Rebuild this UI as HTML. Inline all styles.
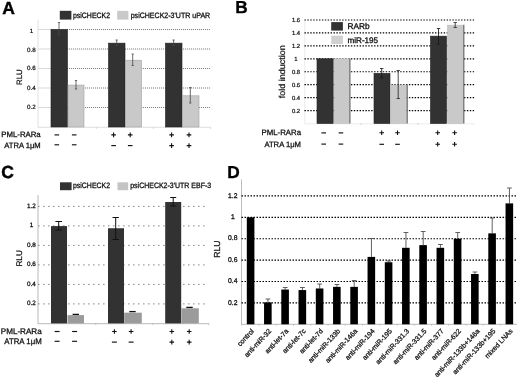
<!DOCTYPE html>
<html><head><meta charset="utf-8"><title>Figure</title>
<style>
html,body{margin:0;padding:0;background:#fff;}
body{width:520px;height:377px;overflow:hidden;font-family:"Liberation Sans",sans-serif;}
svg{display:block;filter:blur(0.35px);}
svg text{font-family:"Liberation Sans",sans-serif;}
</style></head>
<body>
<svg width="520" height="377" viewBox="0 0 520 377" shape-rendering="geometricPrecision" text-rendering="geometricPrecision">
<rect width="520" height="377" fill="#fff"/>
<text x="2.3" y="14.1" font-size="17.5" text-anchor="start" font-weight="bold" fill="#000" stroke="#000" stroke-width="0.4" >A</text>
<path d="M38,20V127.3H210.5" stroke="#d2d2d2" stroke-width="0.7" fill="none"/>
<path d="M38,107.5H51" stroke="#cfcfcf" stroke-width="0.8"/>
<path d="M51,107.5H210.5" stroke="#ececec" stroke-width="0.8"/>
<path d="M51,107.5H210.5" stroke="#6a6a6a" stroke-width="0.8" stroke-dasharray="1 1"/>
<text x="31.4" y="109.1" font-size="6.2" text-anchor="middle" font-weight="normal" fill="#111" stroke="#111" stroke-width="0.22" >0.2</text>
<path d="M38,88.0H51" stroke="#cfcfcf" stroke-width="0.8"/>
<path d="M51,88.0H210.5" stroke="#ececec" stroke-width="0.8"/>
<path d="M51,88.0H210.5" stroke="#6a6a6a" stroke-width="0.8" stroke-dasharray="1 1"/>
<text x="31.4" y="90.2" font-size="6.2" text-anchor="middle" font-weight="normal" fill="#111" stroke="#111" stroke-width="0.22" >0.4</text>
<path d="M38,68.5H51" stroke="#cfcfcf" stroke-width="0.8"/>
<path d="M51,68.5H210.5" stroke="#ececec" stroke-width="0.8"/>
<path d="M51,68.5H210.5" stroke="#6a6a6a" stroke-width="0.8" stroke-dasharray="1 1"/>
<text x="31.4" y="70.2" font-size="6.2" text-anchor="middle" font-weight="normal" fill="#111" stroke="#111" stroke-width="0.22" >0.6</text>
<path d="M38,49.0H51" stroke="#cfcfcf" stroke-width="0.8"/>
<path d="M51,49.0H210.5" stroke="#ececec" stroke-width="0.8"/>
<path d="M51,49.0H210.5" stroke="#6a6a6a" stroke-width="0.8" stroke-dasharray="1 1"/>
<text x="31.4" y="52.1" font-size="6.2" text-anchor="middle" font-weight="normal" fill="#111" stroke="#111" stroke-width="0.22" >0.8</text>
<path d="M38,29.5H51" stroke="#cfcfcf" stroke-width="0.8"/>
<path d="M51,29.5H210.5" stroke="#ececec" stroke-width="0.8"/>
<path d="M51,29.5H210.5" stroke="#6a6a6a" stroke-width="0.8" stroke-dasharray="1 1"/>
<text x="31.4" y="33.2" font-size="6.2" text-anchor="middle" font-weight="normal" fill="#111" stroke="#111" stroke-width="0.22" >1</text>
<text transform="translate(22.2,77.2) rotate(-90)" font-size="7.8" text-anchor="middle" fill="#111" stroke="#111" stroke-width="0.22" >RLU</text>
<rect x="51" y="29.5" width="16.5" height="97.5" fill="#323232" stroke="#1e1e1e" stroke-width="0.6"/>
<rect x="68" y="85.08" width="16" height="41.92" fill="#c9c9c9" stroke="#a0a0a0" stroke-width="0.6"/>
<rect x="108.5" y="43.15" width="16.5" height="83.85" fill="#323232" stroke="#1e1e1e" stroke-width="0.6"/>
<rect x="125.3" y="60.21" width="16.2" height="66.79" fill="#c9c9c9" stroke="#a0a0a0" stroke-width="0.6"/>
<rect x="165.5" y="43.15" width="16.5" height="83.85" fill="#323232" stroke="#1e1e1e" stroke-width="0.6"/>
<rect x="182.5" y="95.8" width="16.5" height="31.2" fill="#c9c9c9" stroke="#a0a0a0" stroke-width="0.6"/>
<path d="M59,22.5V35M57.9,22.5H60.1M57.9,35H60.1" stroke="#474747" stroke-width="0.8" fill="none"/>
<path d="M76,80.5V89M74.9,80.5H77.1M74.9,89H77.1" stroke="#474747" stroke-width="0.8" fill="none"/>
<path d="M116.7,40V45.5M115.60000000000001,40H117.8M115.60000000000001,45.5H117.8" stroke="#474747" stroke-width="0.8" fill="none"/>
<path d="M132.7,54V65.5M131.6,54H133.79999999999998M131.6,65.5H133.79999999999998" stroke="#474747" stroke-width="0.8" fill="none"/>
<path d="M173.6,40V45.5M172.5,40H174.7M172.5,45.5H174.7" stroke="#474747" stroke-width="0.8" fill="none"/>
<path d="M190.3,87.5V103M189.20000000000002,87.5H191.4M189.20000000000002,103H191.4" stroke="#474747" stroke-width="0.8" fill="none"/>
<path d="M96.3,127.3v1.6M153.5,127.3v1.6M210.5,127.3v1.6" stroke="#bbb" stroke-width="0.6"/>
<rect x="59.8" y="10.8" width="11.6" height="8.8" fill="#323232"/>
<text x="73" y="17.6" font-size="7.8" text-anchor="start" font-weight="normal" fill="#111" stroke="#111" stroke-width="0.3" textLength="37" lengthAdjust="spacingAndGlyphs">psiCHECK2</text>
<rect x="117.2" y="10.9" width="11.2" height="8.7" fill="#c9c9c9"/>
<text x="130.7" y="17.6" font-size="7.8" text-anchor="start" font-weight="normal" fill="#111" stroke="#111" stroke-width="0.3" textLength="79.5" lengthAdjust="spacingAndGlyphs">psiCHECK2-3'UTR uPAR</text>
<text x="40.7" y="137.2" font-size="7.8" text-anchor="end" font-weight="normal" fill="#111" stroke="#111" stroke-width="0.28" >PML-RARa</text>
<text x="40.7" y="148.2" font-size="7.8" text-anchor="end" font-weight="normal" fill="#111" stroke="#111" stroke-width="0.28" textLength="36.4" lengthAdjust="spacingAndGlyphs">ATRA 1&#956;M</text>
<path d="M54.5,134.9H59.099999999999994" stroke="#111" stroke-width="1.15" fill="none"/>
<path d="M54.5,144.8H59.099999999999994" stroke="#111" stroke-width="1.15" fill="none"/>
<path d="M71.9,134.9H76.5" stroke="#111" stroke-width="1.15" fill="none"/>
<path d="M71.9,144.8H76.5" stroke="#111" stroke-width="1.15" fill="none"/>
<path d="M111.3,134.9H115.89999999999999M113.6,132.6V137.20000000000002" stroke="#111" stroke-width="1.1" fill="none"/>
<path d="M111.3,145.6H115.89999999999999" stroke="#111" stroke-width="1.15" fill="none"/>
<path d="M127.89999999999999,134.9H132.5M130.2,132.6V137.20000000000002" stroke="#111" stroke-width="1.1" fill="none"/>
<path d="M127.89999999999999,145.6H132.5" stroke="#111" stroke-width="1.15" fill="none"/>
<path d="M169.29999999999998,134.9H173.9M171.6,132.6V137.20000000000002" stroke="#111" stroke-width="1.1" fill="none"/>
<path d="M169.29999999999998,145.6H173.9M171.6,143.29999999999998V147.9" stroke="#111" stroke-width="1.1" fill="none"/>
<path d="M186.7,134.9H191.3M189,132.6V137.20000000000002" stroke="#111" stroke-width="1.1" fill="none"/>
<path d="M186.7,145.6H191.3M189,143.29999999999998V147.9" stroke="#111" stroke-width="1.1" fill="none"/>
<text x="235.3" y="13.2" font-size="17.3" text-anchor="start" font-weight="bold" fill="#000" stroke="#000" stroke-width="0.3" >B</text>
<path d="M304.8,20V123.8H475" stroke="#dcdcdc" stroke-width="0.6" fill="none"/>
<path d="M304.5,110.56H475" stroke="#000" stroke-width="1.2" stroke-dasharray="1.4 1.5"/>
<text x="296" y="112.56" font-size="5.9" text-anchor="middle" font-weight="normal" fill="#111" stroke="#111" stroke-width="0.22" >0.2</text>
<path d="M304.5,97.62H475" stroke="#000" stroke-width="1.2" stroke-dasharray="1.4 1.5"/>
<text x="296" y="99.62" font-size="5.9" text-anchor="middle" font-weight="normal" fill="#111" stroke="#111" stroke-width="0.22" >0.4</text>
<path d="M304.5,84.68H475" stroke="#000" stroke-width="1.2" stroke-dasharray="1.4 1.5"/>
<text x="296" y="86.68" font-size="5.9" text-anchor="middle" font-weight="normal" fill="#111" stroke="#111" stroke-width="0.22" >0.6</text>
<path d="M304.5,71.74H475" stroke="#000" stroke-width="1.2" stroke-dasharray="1.4 1.5"/>
<text x="296" y="73.74" font-size="5.9" text-anchor="middle" font-weight="normal" fill="#111" stroke="#111" stroke-width="0.22" >0.8</text>
<path d="M304.5,58.8H475" stroke="#000" stroke-width="1.2" stroke-dasharray="1.4 1.5"/>
<text x="296" y="60.8" font-size="5.9" text-anchor="middle" font-weight="normal" fill="#111" stroke="#111" stroke-width="0.22" >1</text>
<path d="M304.5,45.86H475" stroke="#000" stroke-width="1.2" stroke-dasharray="1.4 1.5"/>
<text x="296" y="47.86" font-size="5.9" text-anchor="middle" font-weight="normal" fill="#111" stroke="#111" stroke-width="0.22" >1.2</text>
<path d="M304.5,32.92H475" stroke="#000" stroke-width="1.2" stroke-dasharray="1.4 1.5"/>
<text x="296" y="34.92" font-size="5.9" text-anchor="middle" font-weight="normal" fill="#111" stroke="#111" stroke-width="0.22" >1.4</text>
<path d="M304.5,19.98H475" stroke="#000" stroke-width="1.2" stroke-dasharray="1.4 1.5"/>
<text x="296" y="21.98" font-size="5.9" text-anchor="middle" font-weight="normal" fill="#111" stroke="#111" stroke-width="0.22" >1.6</text>
<text transform="translate(285.3,71.8) rotate(-90)" font-size="8.6" text-anchor="middle" fill="#111" stroke="#111" stroke-width="0.22" textLength="53" lengthAdjust="spacingAndGlyphs">fold induction</text>
<rect x="317" y="58.8" width="16.2" height="64.7" fill="#323232" stroke="#1e1e1e" stroke-width="0.6"/>
<rect x="334.1" y="58.8" width="15.2" height="64.7" fill="#c9c9c9" stroke="#c0c0c0" stroke-width="0.6"/>
<rect x="374" y="73.36" width="16" height="50.14" fill="#323232" stroke="#1e1e1e" stroke-width="0.6"/>
<rect x="390.9" y="85.0" width="15.7" height="38.5" fill="#c9c9c9" stroke="#c0c0c0" stroke-width="0.6"/>
<rect x="430.5" y="36.15" width="16.0" height="87.35" fill="#323232" stroke="#1e1e1e" stroke-width="0.6"/>
<rect x="447.4" y="25.16" width="15.8" height="98.34" fill="#c9c9c9" stroke="#c0c0c0" stroke-width="0.6"/>
<path d="M349.9,58.5V123.5" stroke="#6a6a6a" stroke-width="1.2"/>
<path d="M407.2,84.7V123.5" stroke="#6a6a6a" stroke-width="1.2"/>
<path d="M463.8,24.86V123.5" stroke="#6a6a6a" stroke-width="1.2"/>
<path d="M381.7,68.5V78M380.0,68.5H383.4M380.0,78H383.4" stroke="#1a1a1a" stroke-width="0.85" fill="none"/>
<path d="M398.2,70.5V98.5M396.5,70.5H399.9M396.5,98.5H399.9" stroke="#2a2a2a" stroke-width="0.85" fill="none"/>
<path d="M438.5,28.5V44M436.8,28.5H440.2M436.8,44H440.2" stroke="#1a1a1a" stroke-width="0.85" fill="none"/>
<path d="M455.2,22.5V27.5M453.5,22.5H456.9M453.5,27.5H456.9" stroke="#2a2a2a" stroke-width="0.85" fill="none"/>
<rect x="331.2" y="22.1" width="11.7" height="8.5" fill="#323232"/>
<text x="347.5" y="28.7" font-size="8.3" text-anchor="start" font-weight="normal" fill="#111" stroke="#111" stroke-width="0.32" >RARb</text>
<rect x="331.2" y="35.7" width="11.7" height="8.3" fill="#d0d0d0"/>
<text x="347.5" y="42.5" font-size="8.1" text-anchor="start" font-weight="normal" fill="#111" stroke="#111" stroke-width="0.32" >miR-195</text>
<text x="301" y="135.2" font-size="7.8" text-anchor="end" font-weight="normal" fill="#111" stroke="#111" stroke-width="0.28" >PML-RARa</text>
<text x="301" y="146.7" font-size="7.8" text-anchor="end" font-weight="normal" fill="#111" stroke="#111" stroke-width="0.28" textLength="36.6" lengthAdjust="spacingAndGlyphs">ATRA 1&#956;M</text>
<path d="M321.4,132.9H326.0" stroke="#111" stroke-width="1.15" fill="none"/>
<path d="M321.4,144.1H326.0" stroke="#111" stroke-width="1.15" fill="none"/>
<path d="M338.59999999999997,132.9H343.2" stroke="#111" stroke-width="1.15" fill="none"/>
<path d="M338.59999999999997,144.1H343.2" stroke="#111" stroke-width="1.15" fill="none"/>
<path d="M379.4,132.8H384.0M381.7,130.5V135.10000000000002" stroke="#111" stroke-width="1.1" fill="none"/>
<path d="M379.4,144.3H384.0" stroke="#111" stroke-width="1.15" fill="none"/>
<path d="M395.2,132.8H399.8M397.5,130.5V135.10000000000002" stroke="#111" stroke-width="1.1" fill="none"/>
<path d="M395.2,144.3H399.8" stroke="#111" stroke-width="1.15" fill="none"/>
<path d="M435.4,132.8H440.0M437.7,130.5V135.10000000000002" stroke="#111" stroke-width="1.1" fill="none"/>
<path d="M435.4,144.2H440.0M437.7,141.89999999999998V146.5" stroke="#111" stroke-width="1.1" fill="none"/>
<path d="M452.3,132.8H456.90000000000003M454.6,130.5V135.10000000000002" stroke="#111" stroke-width="1.1" fill="none"/>
<path d="M452.3,144.2H456.90000000000003M454.6,141.89999999999998V146.5" stroke="#111" stroke-width="1.1" fill="none"/>
<path d="M361,123.5v1.6M418,123.5v1.6" stroke="#b5b5b5" stroke-width="0.6"/>
<text x="1.2" y="177.9" font-size="17.5" text-anchor="start" font-weight="bold" fill="#000" stroke="#000" stroke-width="0.45" >C</text>
<path d="M38,195V323.7H209" stroke="#b0b0b0" stroke-width="0.9" fill="none"/>
<path d="M38,303.9H207.5" stroke="#7d7d7d" stroke-width="0.9" stroke-dasharray="1.6 3.4"/>
<text x="31.5" y="305.4" font-size="6.3" text-anchor="middle" font-weight="normal" fill="#111" stroke="#111" stroke-width="0.28" >0.2</text>
<path d="M38,284.4H207.5" stroke="#7d7d7d" stroke-width="0.9" stroke-dasharray="1.6 3.4"/>
<text x="31.5" y="285.9" font-size="6.3" text-anchor="middle" font-weight="normal" fill="#111" stroke="#111" stroke-width="0.28" >0.4</text>
<path d="M38,264.9H207.5" stroke="#7d7d7d" stroke-width="0.9" stroke-dasharray="1.6 3.4"/>
<text x="31.5" y="266.4" font-size="6.3" text-anchor="middle" font-weight="normal" fill="#111" stroke="#111" stroke-width="0.28" >0.6</text>
<path d="M38,245.4H207.5" stroke="#7d7d7d" stroke-width="0.9" stroke-dasharray="1.6 3.4"/>
<text x="31.5" y="246.9" font-size="6.3" text-anchor="middle" font-weight="normal" fill="#111" stroke="#111" stroke-width="0.28" >0.8</text>
<path d="M38,225.9H207.5" stroke="#7d7d7d" stroke-width="0.9" stroke-dasharray="1.6 3.4"/>
<text x="31.5" y="227.4" font-size="6.3" text-anchor="middle" font-weight="normal" fill="#111" stroke="#111" stroke-width="0.28" >1</text>
<path d="M38,206.4H207.5" stroke="#7d7d7d" stroke-width="0.9" stroke-dasharray="1.6 3.4"/>
<text x="31.5" y="207.9" font-size="6.3" text-anchor="middle" font-weight="normal" fill="#111" stroke="#111" stroke-width="0.28" >1.2</text>
<text transform="translate(22.3,258.4) rotate(-90)" font-size="8.2" text-anchor="middle" fill="#111" stroke="#111" stroke-width="0.22" >RLU</text>
<rect x="51" y="226.09" width="16" height="97.31" fill="#323232"/>
<rect x="67.5" y="315.11" width="16.5" height="8.29" fill="#9b9b9b"/>
<rect x="108" y="228.24" width="16" height="95.16" fill="#323232"/>
<rect x="124.2" y="312.67" width="17.6" height="10.73" fill="#9b9b9b"/>
<rect x="165.2" y="202.01" width="16.0" height="121.39" fill="#323232"/>
<rect x="181.4" y="308.29" width="17.4" height="15.11" fill="#9b9b9b"/>
<path d="M58.7,221.5V230M55.400000000000006,221.5H62.0M55.400000000000006,230H62.0" stroke="#111" stroke-width="1.0" fill="none"/>
<path d="M115.7,217.5V239.5M112.5,217.5H118.9M112.5,239.5H118.9" stroke="#111" stroke-width="1.0" fill="none"/>
<path d="M173.2,197.5V206M170.2,197.5H176.2M170.2,206H176.2" stroke="#111" stroke-width="1.0" fill="none"/>
<path d="M72.6,314.4H79.0" stroke="#111" stroke-width="1.3"/>
<path d="M129.3,311.6H135.7" stroke="#111" stroke-width="1.3"/>
<path d="M186.3,307.4H192.7" stroke="#111" stroke-width="1.3"/>
<rect x="60" y="182.3" width="11.6" height="7.9" fill="#323232"/>
<text x="73" y="188.3" font-size="7.8" text-anchor="start" font-weight="normal" fill="#111" stroke="#111" stroke-width="0.3" textLength="37" lengthAdjust="spacingAndGlyphs">psiCHECK2</text>
<rect x="117.5" y="182.3" width="10.7" height="7.9" fill="#c4c4c4"/>
<text x="130.2" y="188.3" font-size="7.8" text-anchor="start" font-weight="normal" fill="#111" stroke="#111" stroke-width="0.3" textLength="81" lengthAdjust="spacingAndGlyphs">psiCHECK2-3'UTR EBF-3</text>
<text x="41.7" y="333.9" font-size="8.1" text-anchor="end" font-weight="normal" fill="#111" stroke="#111" stroke-width="0.28" >PML-RARa</text>
<text x="41.7" y="344.0" font-size="8.0" text-anchor="end" font-weight="normal" fill="#111" stroke="#111" stroke-width="0.28" textLength="37.4" lengthAdjust="spacingAndGlyphs">ATRA 1&#956;M</text>
<path d="M54.6,331.5H59.6" stroke="#111" stroke-width="1.15" fill="none"/>
<path d="M54.6,341.3H59.6" stroke="#111" stroke-width="1.15" fill="none"/>
<path d="M72.1,331.5H77.1" stroke="#111" stroke-width="1.15" fill="none"/>
<path d="M72.1,341.3H77.1" stroke="#111" stroke-width="1.15" fill="none"/>
<path d="M112.10000000000001,331.5H116.7M114.4,329.2V333.8" stroke="#111" stroke-width="1.1" fill="none"/>
<path d="M111.9,342.1H116.9" stroke="#111" stroke-width="1.15" fill="none"/>
<path d="M128.79999999999998,331.5H133.4M131.1,329.2V333.8" stroke="#111" stroke-width="1.1" fill="none"/>
<path d="M128.6,342.1H133.6" stroke="#111" stroke-width="1.15" fill="none"/>
<path d="M169.5,331.5H174.10000000000002M171.8,329.2V333.8" stroke="#111" stroke-width="1.1" fill="none"/>
<path d="M169.5,342.1H174.10000000000002M171.8,339.8V344.40000000000003" stroke="#111" stroke-width="1.1" fill="none"/>
<path d="M186.89999999999998,331.5H191.5M189.2,329.2V333.8" stroke="#111" stroke-width="1.1" fill="none"/>
<path d="M186.89999999999998,342.1H191.5M189.2,339.8V344.40000000000003" stroke="#111" stroke-width="1.1" fill="none"/>
<path d="M95.7,323.4v1.7M152.9,323.4v1.7M209,323.4v1.7" stroke="#aaa" stroke-width="0.6"/>
<text x="227.3" y="177.6" font-size="17.3" text-anchor="start" font-weight="bold" fill="#000" stroke="#000" stroke-width="0.35" >D</text>
<path d="M241.5,179.5V324.3H517" stroke="#aaa" stroke-width="0.8" fill="none"/>
<path d="M241.5,302.9H517" stroke="#000" stroke-width="1.15" stroke-dasharray="1.5 1.5"/>
<text x="232.8" y="304.5" font-size="6.8" text-anchor="middle" font-weight="normal" fill="#111" stroke="#111" stroke-width="0.28" >0.2</text>
<path d="M241.5,281.5H517" stroke="#000" stroke-width="1.15" stroke-dasharray="1.5 1.5"/>
<text x="232.8" y="283.1" font-size="6.8" text-anchor="middle" font-weight="normal" fill="#111" stroke="#111" stroke-width="0.28" >0.4</text>
<path d="M241.5,260.1H517" stroke="#000" stroke-width="1.15" stroke-dasharray="1.5 1.5"/>
<text x="232.8" y="261.7" font-size="6.8" text-anchor="middle" font-weight="normal" fill="#111" stroke="#111" stroke-width="0.28" >0.6</text>
<path d="M241.5,238.7H517" stroke="#000" stroke-width="1.15" stroke-dasharray="1.5 1.5"/>
<text x="232.8" y="240.3" font-size="6.8" text-anchor="middle" font-weight="normal" fill="#111" stroke="#111" stroke-width="0.28" >0.8</text>
<path d="M241.5,217.3H517" stroke="#000" stroke-width="1.15" stroke-dasharray="1.5 1.5"/>
<text x="232.8" y="218.9" font-size="6.8" text-anchor="middle" font-weight="normal" fill="#111" stroke="#111" stroke-width="0.28" >1</text>
<path d="M241.5,195.9H517" stroke="#000" stroke-width="1.15" stroke-dasharray="1.5 1.5"/>
<text x="232.8" y="197.5" font-size="6.8" text-anchor="middle" font-weight="normal" fill="#111" stroke="#111" stroke-width="0.28" >1.2</text>
<text transform="translate(220.3,249.1) rotate(-90)" font-size="8.7" text-anchor="middle" fill="#111" stroke="#111" stroke-width="0.28" >RLU</text>
<rect x="246.8" y="217.3" width="7.6" height="107.0" fill="#000"/>
<path d="M241.8,324.3v1.5" stroke="#aaa" stroke-width="0.6"/>
<text transform="translate(254.4,331.5) rotate(-47)" font-size="6.95" text-anchor="end" fill="#111" stroke="#111" stroke-width="0.26" >control</text>
<path d="M267.95000000000005,299V302.37M265.55000000000007,299H270.35" stroke="#505050" stroke-width="0.9" fill="none"/>
<rect x="264.05" y="302.37" width="7.6" height="21.93" fill="#000"/>
<path d="M259.05,324.3v1.5" stroke="#aaa" stroke-width="0.6"/>
<text transform="translate(271.65,331.5) rotate(-47)" font-size="6.95" text-anchor="end" fill="#111" stroke="#111" stroke-width="0.26" >anti-miR-32</text>
<path d="M285.20000000000005,287.5V289.53M282.80000000000007,287.5H287.6" stroke="#505050" stroke-width="0.9" fill="none"/>
<rect x="281.3" y="289.53" width="7.6" height="34.77" fill="#000"/>
<path d="M276.3,324.3v1.5" stroke="#aaa" stroke-width="0.6"/>
<text transform="translate(288.9,331.5) rotate(-47)" font-size="6.95" text-anchor="end" fill="#111" stroke="#111" stroke-width="0.26" >anti-let-7a</text>
<path d="M302.45000000000005,287.5V290.06M300.05000000000007,287.5H304.85" stroke="#505050" stroke-width="0.9" fill="none"/>
<rect x="298.55" y="290.06" width="7.6" height="34.24" fill="#000"/>
<path d="M293.55,324.3v1.5" stroke="#aaa" stroke-width="0.6"/>
<text transform="translate(306.15,331.5) rotate(-47)" font-size="6.95" text-anchor="end" fill="#111" stroke="#111" stroke-width="0.26" >anti-let-7c</text>
<path d="M319.70000000000005,284V288.46M317.30000000000007,284H322.1" stroke="#505050" stroke-width="0.9" fill="none"/>
<rect x="315.8" y="288.46" width="7.6" height="35.84" fill="#000"/>
<path d="M310.8,324.3v1.5" stroke="#aaa" stroke-width="0.6"/>
<text transform="translate(323.4,331.5) rotate(-47)" font-size="6.95" text-anchor="end" fill="#111" stroke="#111" stroke-width="0.26" >anti-let-7d</text>
<path d="M336.95000000000005,284.5V286.85M334.55000000000007,284.5H339.35" stroke="#505050" stroke-width="0.9" fill="none"/>
<rect x="333.05" y="286.85" width="7.6" height="37.45" fill="#000"/>
<path d="M328.05,324.3v1.5" stroke="#aaa" stroke-width="0.6"/>
<text transform="translate(340.65,331.5) rotate(-47)" font-size="6.95" text-anchor="end" fill="#111" stroke="#111" stroke-width="0.26" >anti-miR-133b</text>
<path d="M354.20000000000005,280.5V286.85M351.80000000000007,280.5H356.6" stroke="#505050" stroke-width="0.9" fill="none"/>
<rect x="350.3" y="286.85" width="7.6" height="37.45" fill="#000"/>
<path d="M345.3,324.3v1.5" stroke="#aaa" stroke-width="0.6"/>
<text transform="translate(357.9,331.5) rotate(-47)" font-size="6.95" text-anchor="end" fill="#111" stroke="#111" stroke-width="0.26" >anti-miR-146a</text>
<path d="M371.45000000000005,238.5V256.89M369.05000000000007,238.5H373.85" stroke="#505050" stroke-width="0.9" fill="none"/>
<rect x="367.55" y="256.89" width="7.6" height="67.41" fill="#000"/>
<path d="M362.55,324.3v1.5" stroke="#aaa" stroke-width="0.6"/>
<text transform="translate(375.15,331.5) rotate(-47)" font-size="6.95" text-anchor="end" fill="#111" stroke="#111" stroke-width="0.26" >anti-miR-194</text>
<path d="M388.70000000000005,261V262.24M386.30000000000007,261H391.1" stroke="#505050" stroke-width="0.9" fill="none"/>
<rect x="384.8" y="262.24" width="7.6" height="62.06" fill="#000"/>
<path d="M379.8,324.3v1.5" stroke="#aaa" stroke-width="0.6"/>
<text transform="translate(392.4,331.5) rotate(-47)" font-size="6.95" text-anchor="end" fill="#111" stroke="#111" stroke-width="0.26" >anti-miR-195</text>
<path d="M405.95000000000005,232.5V247.8M403.55000000000007,232.5H408.35" stroke="#505050" stroke-width="0.9" fill="none"/>
<rect x="402.05" y="247.8" width="7.6" height="76.5" fill="#000"/>
<path d="M397.05,324.3v1.5" stroke="#aaa" stroke-width="0.6"/>
<text transform="translate(409.65,331.5) rotate(-47)" font-size="6.95" text-anchor="end" fill="#111" stroke="#111" stroke-width="0.26" >anti-miR-331.3</text>
<path d="M423.20000000000005,231.5V245.12M420.80000000000007,231.5H425.6" stroke="#505050" stroke-width="0.9" fill="none"/>
<rect x="419.3" y="245.12" width="7.6" height="79.18" fill="#000"/>
<path d="M414.3,324.3v1.5" stroke="#aaa" stroke-width="0.6"/>
<text transform="translate(426.9,331.5) rotate(-47)" font-size="6.95" text-anchor="end" fill="#111" stroke="#111" stroke-width="0.26" >anti-miR-331.5</text>
<path d="M440.45000000000005,244.5V247.8M438.05000000000007,244.5H442.85" stroke="#505050" stroke-width="0.9" fill="none"/>
<rect x="436.55" y="247.8" width="7.6" height="76.5" fill="#000"/>
<path d="M431.55,324.3v1.5" stroke="#aaa" stroke-width="0.6"/>
<text transform="translate(444.15,331.5) rotate(-47)" font-size="6.95" text-anchor="end" fill="#111" stroke="#111" stroke-width="0.26" >anti-miR-377</text>
<path d="M457.70000000000005,232.5V238.7M455.30000000000007,232.5H460.1" stroke="#505050" stroke-width="0.9" fill="none"/>
<rect x="453.8" y="238.7" width="7.6" height="85.6" fill="#000"/>
<path d="M448.8,324.3v1.5" stroke="#aaa" stroke-width="0.6"/>
<text transform="translate(461.4,331.5) rotate(-47)" font-size="6.95" text-anchor="end" fill="#111" stroke="#111" stroke-width="0.26" >anti-miR-622</text>
<path d="M474.95000000000005,272V274.01M472.55000000000007,272H477.35" stroke="#505050" stroke-width="0.9" fill="none"/>
<rect x="471.05" y="274.01" width="7.6" height="50.29" fill="#000"/>
<path d="M466.05,324.3v1.5" stroke="#aaa" stroke-width="0.6"/>
<text transform="translate(480.15,331.5) rotate(-47)" font-size="6.95" text-anchor="end" fill="#111" stroke="#111" stroke-width="0.26" >anti-miR-133b+146a</text>
<path d="M492.20000000000005,218V233.35M489.80000000000007,218H494.6" stroke="#505050" stroke-width="0.9" fill="none"/>
<rect x="488.3" y="233.35" width="7.6" height="90.95" fill="#000"/>
<path d="M483.3,324.3v1.5" stroke="#aaa" stroke-width="0.6"/>
<text transform="translate(495.9,331.5) rotate(-47)" font-size="6.95" text-anchor="end" fill="#111" stroke="#111" stroke-width="0.26" >anti-miR-133b+195</text>
<path d="M509.45000000000005,188V203.39M507.05000000000007,188H511.85" stroke="#505050" stroke-width="0.9" fill="none"/>
<rect x="505.55" y="203.39" width="7.6" height="120.91" fill="#000"/>
<path d="M500.55,324.3v1.5" stroke="#aaa" stroke-width="0.6"/>
<text transform="translate(513.15,331.5) rotate(-47)" font-size="6.95" text-anchor="end" fill="#111" stroke="#111" stroke-width="0.26" >mixed LNAs</text>
</svg>
</body></html>
